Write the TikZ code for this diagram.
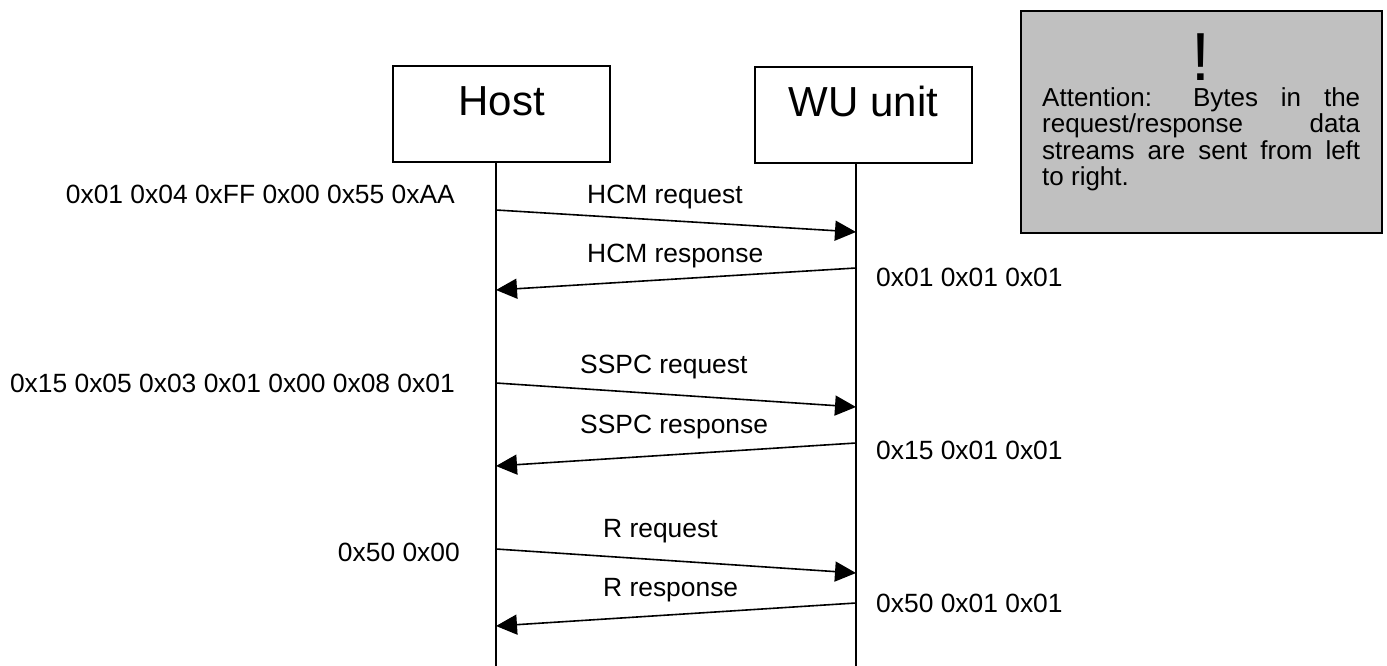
\documentclass[tikz,border=0pt]{standalone}
\usepackage{fontspec}
\setmainfont{Liberation Sans}
\usetikzlibrary{arrows.meta}
\definecolor{notegray}{HTML}{C0C0C0}
\begin{document}
\begin{tikzpicture}[x=1pt,y=-1pt,
  actor/.style={draw, line width=2pt, minimum width=217pt, minimum height=96pt, inner sep=0pt,
    font=\fontsize{42}{50}\selectfont, text height=30pt, text depth=26pt},
  msg/.style={line width=1.6pt, -{Triangle[length=21pt,width=20pt]}},
  life/.style={line width=2pt},
  lbl/.style={font=\fontsize{26.4}{30}\selectfont, inner sep=0pt},
  notebox/.style={draw, line width=2pt, fill=notegray, minimum width=361pt, minimum height=222pt, inner sep=0pt},
]
\useasboundingbox (0,0) rectangle (1387,666);
% actors
\node[actor] (host) at (501.5,114) {Host};
\node[actor] (wu) at (863.5,115) {WU unit};
% lifelines
\coordinate (hb) at (496,666);
\coordinate (wb) at (856,666);
\draw[life] (host.south -| hb) -- (hb);
\draw[life] (wu.south -| wb) -- (wb);
% message end points
\coordinate (h1) at (496,210); \coordinate (w1) at (856,232);
\coordinate (w2) at (856,268); \coordinate (h2) at (496,290);
\coordinate (h3) at (496,383); \coordinate (w3) at (856,407);
\coordinate (w4) at (856,443); \coordinate (h4) at (496,466);
\coordinate (h5) at (496,549); \coordinate (w5) at (856,573);
\coordinate (w6) at (856,603); \coordinate (h6) at (496,626);
\draw[msg] (h1) -- (w1);
\draw[msg] (w2) -- (h2);
\draw[msg] (h3) -- (w3);
\draw[msg] (w4) -- (h4);
\draw[msg] (h5) -- (w5);
\draw[msg] (w6) -- (h6);
% message labels
\node[lbl, anchor=base west] (l1) at (587,203) {HCM request};
\node[lbl, anchor=base west] (l2) at (587,262) {HCM response};
\node[lbl, anchor=base west] (l3) at (580,373) {SSPC request};
\node[lbl, anchor=base west] (l4) at (580,433) {SSPC response};
\node[lbl, anchor=base west] (l5) at (603,537) {R request};
\node[lbl, anchor=base west] (l6) at (603,596) {R response};
% data streams
\node[lbl, anchor=base east] (d1) at (455,203) {0x01 0x04 0xFF 0x00 0x55 0xAA};
\node[lbl, anchor=base east] (d3) at (455,392) {0x15 0x05 0x03 0x01 0x00 0x08 0x01};
\node[lbl, anchor=base east] (d5) at (460,561) {0x50 0x00};
\node[lbl, anchor=base west] (d2) at (876,286) {0x01 0x01 0x01};
\node[lbl, anchor=base west] (d4) at (876,459) {0x15 0x01 0x01};
\node[lbl, anchor=base west] (d6) at (876,612) {0x50 0x01 0x01};
% note
\node[notebox] (note) at (1201.5,122) {};
\node[font=\fontsize{68}{70}\selectfont, inner sep=0pt] (bang) at (1201,57.5) {!};
\node[inner sep=0pt, text width=318pt, align=justify, anchor=north west,
  font=\fontsize{26}{26.3}\selectfont] (notetxt) at (1042,87.4)
  {Attention: Bytes in the\linebreak request/response data\linebreak streams are sent from left\linebreak to right.};
\end{tikzpicture}
\end{document}
